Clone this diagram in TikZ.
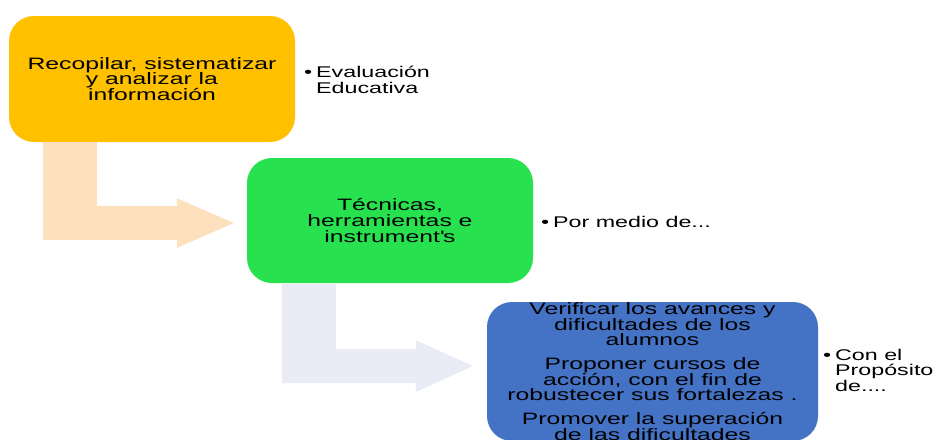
\documentclass[tikz,border=0pt]{standalone}
\usepackage{fontspec}
\usetikzlibrary{calc}
\newfontfamily\widesans[FakeStretch=1.5]{Liberation Sans}
\definecolor{boxorange}{HTML}{FFC000}
\definecolor{boxgreen}{HTML}{27E24E}
\definecolor{boxblue}{HTML}{4472C4}
\definecolor{bendpeach}{HTML}{FDE1BE}
\definecolor{bendgrey}{HTML}{E9EBF5}

\begin{document}
\begin{tikzpicture}[x=1pt,y=-1pt,
   stepbox/.style={shape=rectangle,rounded corners=25pt,inner sep=0pt,align=center,
     font=\widesans\fontsize{16.5}{15.7}\selectfont},
   note/.style={anchor=base west,inner sep=0pt,align=left,
     font=\widesans\fontsize{15.5}{15.7}\selectfont}]
   \useasboundingbox (0,0) rectangle (941,439);

   \path (152,79) node[stepbox,fill=boxorange,minimum width=286pt,minimum height=126pt] (S0)
   {Recopilar, sistematizar\\y analizar la\\información};
   \path (316,93.5) node[note] (S0n) {\llap{•\hspace{4pt}}Evaluación\\Educativa};

   \path (390,220.5) node[stepbox,fill=boxgreen,minimum width=286pt,minimum height=125pt] (S1)
   {Técnicas,\\herramientas e\\instrument\textquotesingle s};
   \path (553,227) node[note] (S1n) {\llap{•\hspace{4pt}}Por medio de...};

   \path (652.5,371.5) node[stepbox,fill=boxblue,minimum width=331pt,minimum height=139pt] (S2)
   {Verificar los avances y\\dificultades de los\\alumnos\\[8pt]
    Proponer cursos de\\acción, con el fin de\\robustecer sus fortalezas .\\[8pt]
    Promover la superación\\de las dificultades};
   \path (835,391.5) node[note] (S2n) {\llap{•\hspace{4pt}}Con el\\Propósito\\de....};

   % bent arrows between the boxes
   \fill[bendpeach] ($(S0.south west)+(34,0)$) -- ++(54,0) -- ++(0,64) -- ++(80,0) -- ++(0,-8)
     -- ($(S1.west)+(-13,2.5)$) -- ++(-57,25) -- ++(0,-8) -- ++(-134,0) -- cycle;
   \fill[bendgrey] ($(S1.south west)+(35,1)$) -- ++(54,0) -- ++(0,65) -- ++(80,0) -- ++(0,-9)
     -- ($(S2.west)+(-14,-5.5)$) -- ++(-57,26) -- ++(0,-9) -- ++(-134,0) -- cycle;
\end{tikzpicture}
\end{document}
